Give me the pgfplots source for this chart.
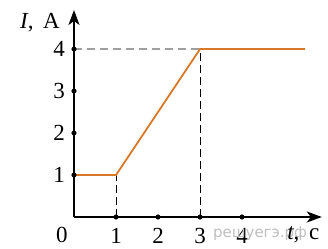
\documentclass[border=0pt]{standalone}
\usepackage{pgfplots}
\pgfplotsset{compat=1.18}
\usepackage{fontspec}
\setmainfont{Liberation Serif}
\newfontfamily\wmfont{DejaVu Sans}
\usetikzlibrary{arrows.meta}
\definecolor{orng}{RGB}{217,121,38}
\begin{document}
\begin{tikzpicture}[x=1pt,y=1pt]
\path[use as bounding box] (-74,-31) rectangle (254,217);
\begin{axis}[
  at={(0,0)}, anchor=south west, scale only axis,
  width=247.8pt, height=207pt,
  xmin=0, xmax=5.9, ymin=0, ymax=4.93,
  axis lines=left,
  axis line style={line width=1.5pt, -{Stealth[length=15pt,width=11pt,inset=4pt]}},
  xtick={1,2,3,4}, ytick={1,2,3,4},
  major tick length=0pt,
  /pgf/number format/assume math mode=true,
  tick label style={font=\fontsize{23}{23}\selectfont, inner sep=0pt},
  xticklabel style={anchor=north, yshift=-11pt},
  yticklabel style={anchor=east, xshift=-9pt},
  clip=false,
]
\addplot[gray!75, line width=1.2pt, dash pattern=on 8pt off 5pt] coordinates {(0,4) (3,4)};
\addplot[black, line width=1pt, dash pattern=on 8pt off 4pt] coordinates {(1,0) (1,1)};
\addplot[black, line width=1pt, dash pattern=on 8pt off 4pt] coordinates {(3,0) (3,4)};
\addplot[orng, line width=1.8pt] coordinates {(0,1) (1,1) (3,4) (5.5,4)};
\addplot[only marks, mark=*, mark size=2.3pt, black] coordinates {(1,0) (2,0) (3,0) (4,0) (0,1) (0,2) (0,3) (0,4)};
\node[font=\fontsize{15}{15}\wmfont, text=gray!50, inner sep=0pt] at (axis cs:4.43,-0.40) {решуегэ.рф};
\node[font=\fontsize{23}{23}\selectfont, inner sep=0pt] at (axis cs:-0.29,-0.43) {0};
\node[font=\fontsize{23}{23}\selectfont, inner sep=0pt] at (axis cs:-0.81,4.62) {\textit{I},\ \,А};
\node[font=\fontsize{23}{23}\selectfont, inner sep=0pt] at (axis cs:5.46,-0.43) {\textit{t},\ \,с};
\end{axis}
\end{tikzpicture}
\end{document}
